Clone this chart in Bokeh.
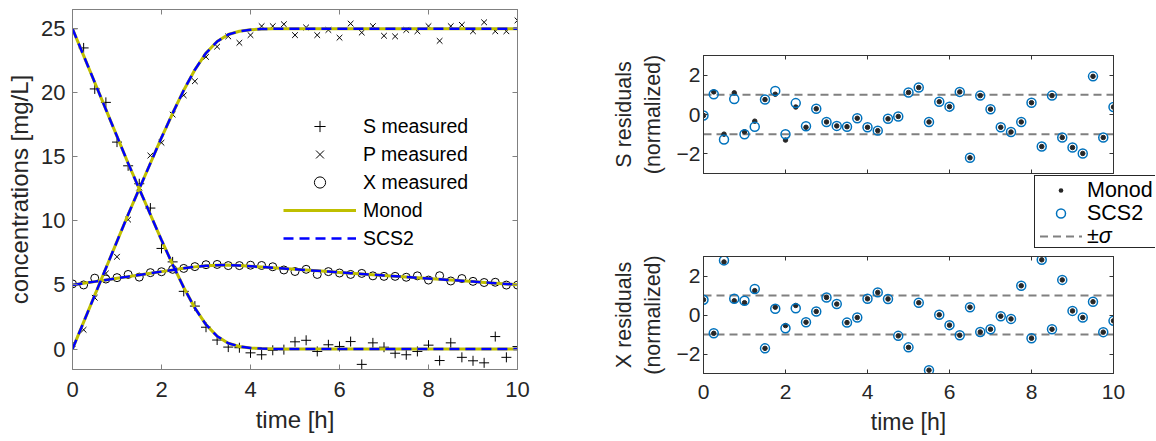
from bokeh.plotting import figure
from bokeh.models import Range1d, LinearAxis, FixedTicker, Legend, LegendItem, Div
from bokeh.layouts import row, column
from bokeh.embed import file_html
from bokeh.resources import INLINE

# ---------------- data ----------------
time = [0.0, 0.25, 0.5, 0.75, 1.0, 1.25, 1.5, 1.75, 2.0, 2.25, 2.5, 2.75, 3.0, 3.25, 3.5, 3.75,
        4.0, 4.25, 4.5, 4.75, 5.0, 5.25, 5.5, 5.75, 6.0, 6.25, 6.5, 6.75, 7.0, 7.25, 7.5, 7.75,
        8.0, 8.25, 8.5, 8.75, 9.0, 9.25, 9.5, 9.75, 10.0]

S_measured = [25.0, 23.5, 20.3, 19.25, 16.15, 14.3, 12.9, 11.0, 7.85, 6.8, 4.5, 3.35, 1.7, 0.7, 0.15, 0.1,
              -0.3, -0.45, -0.1, -0.05, 0.56, 0.68, -0.19, 0.33, 0.2, 0.58, -1.2, 0.48, 0.14, -0.33,
              -0.45, -0.19, 0.3, -0.9, 0.48, -0.65, -0.92, -1.08, 0.97, -0.65, 0.19]
P_measured = [0.4, 1.5, 4.0, 5.9, 7.2, 10.1, 12.6, 15.1, 16.1, 18.3, 19.8, 20.9, 22.8, 23.6, 24.4, 23.9,
              24.5, 25.2, 25.2, 25.35, 24.5, 25.1, 24.5, 24.9, 24.3, 25.4, 24.7, 25.2, 24.45, 24.4,
              24.9, 24.8, 25.2, 24.05, 25.2, 25.3, 24.8, 25.5, 24.8, 24.8, 25.65]
X_measured = [5.08, 5.0, 5.53, 5.46, 5.57, 5.82, 5.61, 5.96, 6.03, 6.22, 6.29, 6.43, 6.58, 6.6, 6.51, 6.51,
              6.54, 6.52, 6.42, 6.17, 6.05, 6.22, 5.82, 6.04, 5.93, 5.82, 5.9, 5.71, 5.67, 5.67,
              5.6, 5.71, 5.38, 5.72, 5.31, 5.5, 5.28, 5.19, 5.21, 4.99, 4.99]

S_monod = [25.0, 22.9, 20.8, 18.7, 16.6, 14.5, 12.5, 10.5, 8.5, 6.6, 4.8, 3.2, 1.9, 1.0, 0.45, 0.2,
           0.08, 0.03, 0.01, 0.0, 0.0, 0.0, 0.0, 0.0, 0.0, 0.0, 0.0, 0.0, 0.0, 0.0,
           0.0, 0.0, 0.0, 0.0, 0.0, 0.0, 0.0, 0.0, 0.0, 0.0, 0.0]
P_monod = [0.0, 2.1, 4.2, 6.3, 8.4, 10.5, 12.5, 14.5, 16.5, 18.4, 20.2, 21.8, 23.1, 24.0, 24.55, 24.8,
           24.92, 24.97, 24.99, 25.0, 25.0, 25.0, 25.0, 25.0, 25.0, 25.0, 25.0, 25.0, 25.0, 25.0,
           25.0, 25.0, 25.0, 25.0, 25.0, 25.0, 25.0, 25.0, 25.0, 25.0, 25.0]
X_monod = [5.0, 5.13, 5.26, 5.39, 5.52, 5.65, 5.78, 5.91, 6.04, 6.17, 6.3, 6.41, 6.49, 6.54, 6.55, 6.52,
           6.46, 6.4, 6.34, 6.28, 6.22, 6.16, 6.1, 6.04, 5.98, 5.92, 5.86, 5.8, 5.74, 5.68,
           5.62, 5.56, 5.5, 5.44, 5.38, 5.32, 5.26, 5.2, 5.14, 5.08, 5.02]
S_scs2 = [25.0, 22.9, 20.8, 18.7, 16.6, 14.5, 12.5, 10.5, 8.5, 6.6, 4.8, 3.2, 1.9, 1.0, 0.45, 0.2,
          0.08, 0.03, 0.01, 0.0, 0.0, 0.0, 0.0, 0.0, 0.0, 0.0, 0.0, 0.0, 0.0, 0.0,
          0.0, 0.0, 0.0, 0.0, 0.0, 0.0, 0.0, 0.0, 0.0, 0.0, 0.0]
P_scs2 = [0.0, 2.1, 4.2, 6.3, 8.4, 10.5, 12.5, 14.5, 16.5, 18.4, 20.2, 21.8, 23.1, 24.0, 24.55, 24.8,
          24.92, 24.97, 24.99, 25.0, 25.0, 25.0, 25.0, 25.0, 25.0, 25.0, 25.0, 25.0, 25.0, 25.0,
          25.0, 25.0, 25.0, 25.0, 25.0, 25.0, 25.0, 25.0, 25.0, 25.0, 25.0]
X_scs2 = [5.0, 5.13, 5.26, 5.39, 5.52, 5.65, 5.78, 5.91, 6.04, 6.17, 6.3, 6.41, 6.49, 6.54, 6.55, 6.52,
          6.46, 6.4, 6.34, 6.28, 6.22, 6.16, 6.1, 6.04, 5.98, 5.92, 5.86, 5.8, 5.74, 5.68,
          5.62, 5.56, 5.5, 5.44, 5.38, 5.32, 5.26, 5.2, 5.14, 5.08, 5.02]

S_res_monod = [-0.05, 1.15, -1.0, 1.1, -0.88, -0.34, 0.76, 1.03, -1.3, 0.38, -0.65, 0.29, -0.38, -0.58, -0.62, -0.19,
               -0.65, -0.82, -0.22, -0.10, 1.12, 1.37, -0.38, 0.65, 0.40, 1.15, -2.2, 0.96, 0.27, -0.65,
               -0.89, -0.38, 0.6, -1.63, 0.96, -1.17, -1.68, -1.98, 1.94, -1.17, 0.38]
S_res_scs2 = [-0.05, 1.03, -1.27, 0.79, -1.0, -0.62, 0.76, 1.2, -1.0, 0.58, -0.6, 0.29, -0.38, -0.58, -0.62, -0.19,
              -0.65, -0.82, -0.22, -0.10, 1.12, 1.37, -0.38, 0.65, 0.40, 1.15, -2.2, 0.96, 0.27, -0.65,
              -0.89, -0.38, 0.6, -1.63, 0.96, -1.17, -1.68, -1.98, 1.94, -1.17, 0.38]
X_res_monod = [0.78, -0.94, 2.72, 0.73, 0.63, 1.25, -1.71, 0.4, -0.54, 0.49, -0.37, 0.18, 0.9, 0.56, -0.39, -0.13,
               0.83, 1.16, 0.82, -1.07, -1.66, 0.63, -2.83, 0.01, -0.52, -1.04, 0.40, -0.87, -0.73, -0.06,
               -0.2, 1.5, -1.19, 2.83, -0.73, 1.8, 0.21, -0.13, 0.68, -0.88, -0.3]
X_res_scs2 = [0.78, -0.94, 2.8, 0.83, 0.73, 1.33, -1.71, 0.32, -0.68, 0.35, -0.37, 0.18, 0.9, 0.56, -0.39, -0.13,
              0.83, 1.16, 0.82, -1.07, -1.66, 0.63, -2.83, 0.01, -0.52, -1.04, 0.40, -0.87, -0.73, -0.06,
              -0.2, 1.5, -1.19, 2.83, -0.73, 1.8, 0.21, -0.13, 0.68, -0.88, -0.3]
sigma_levels = [1, -1]

res_legend_labels = ["Monod", "SCS2", "±σ"]

x_ticks = [0, 2, 4, 6, 8, 10]
conc_ticks = [0, 5, 10, 15, 20, 25]
res_ticks = [-2, 0, 2]

# ---------------- style ----------------
FONT = "Liberation Sans"
TXT = "#262626"
MONOD_C = "#BFBF00"
SCS2_C = "#0000FF"
RES_BLUE = "#0072BD"
SIG_C = "#808080"
DOT_C = "#262626"


def make_fig(fw, fh, xr, yr, bl, br, bt, bb, axis_color, tick_len, xticks, yticks,
             xlabel=None, ylabel=None, show_xlabels=True, tick_fs="22px", label_fs="24px"):
    p = figure(frame_width=fw, frame_height=fh, x_range=Range1d(*xr), y_range=Range1d(*yr),
               min_border_left=bl, min_border_right=br, min_border_top=bt, min_border_bottom=bb,
               output_backend="svg", toolbar_location=None)
    p.xgrid.visible = False
    p.ygrid.visible = False
    p.outline_line_color = axis_color
    p.outline_line_width = 1
    p.add_layout(LinearAxis(), "above")
    p.add_layout(LinearAxis(), "right")
    for side, axes in (("below", p.below), ("left", p.left), ("above", p.above), ("right", p.right)):
        for ax in axes:
            ax.ticker = FixedTicker(ticks=xticks if side in ("below", "above") else yticks)
            ax.major_tick_in = tick_len
            ax.major_tick_out = 0
            ax.minor_tick_line_color = None
            ax.axis_line_color = axis_color
            ax.major_tick_line_color = axis_color
            ax.major_label_text_font = FONT
            ax.major_label_text_color = TXT
            ax.major_label_text_font_size = tick_fs
            ax.axis_label_text_font = FONT
            ax.axis_label_text_font_style = "normal"
            ax.axis_label_text_color = TXT
            ax.axis_label_text_font_size = label_fs
            if side in ("above", "right") or (side == "below" and not show_xlabels):
                # tick marks only (box-style axes): no labels at all
                ax.major_label_text_font_size = "0px"
                ax.major_label_text_color = None
                ax.major_label_standoff = 0
                ax.axis_label_standoff = 0
    if xlabel:
        p.below[0].axis_label = xlabel
    if ylabel:
        p.left[0].axis_label = ylabel
    return p


# ---------------- left panel ----------------
p1 = make_fig(445, 360, (0, 10), (-1.6, 26.5), 72, 73, 9, 72, "#808080", 5,
              x_ticks, conc_ticks, xlabel="time [h]", ylabel="concentrations [mg/L]")
p1.below[0].major_label_standoff = 12
p1.left[0].major_label_standoff = 7
p1.below[0].axis_label_standoff = 6

rS = p1.scatter(time, S_measured, marker="cross", size=10, line_color="black", line_width=1)
rP = p1.scatter(time, P_measured, marker="x", size=8, line_color="black", line_width=1)
rX = p1.scatter(time, X_measured, marker="circle", size=8, line_color="black",
                fill_color=None, line_width=1)
rM = None
for ys in (S_monod, P_monod, X_monod):
    r = p1.line(time, ys, line_color=MONOD_C, line_width=3)
    rM = rM or r
rC = None
for ys in (S_scs2, P_scs2, X_scs2):
    r = p1.line(time, ys, line_color=SCS2_C, line_width=2.5, line_dash="10 6")
    rC = rC or r

leg1 = Legend(items=[LegendItem(label="S measured", renderers=[rS]),
                     LegendItem(label="P measured", renderers=[rP]),
                     LegendItem(label="X measured", renderers=[rX]),
                     LegendItem(label="Monod", renderers=[rM]),
                     LegendItem(label="SCS2", renderers=[rC])],
              location=(211, 117), padding=0, margin=0, spacing=0,
              glyph_width=73, glyph_height=28, label_height=28, label_standoff=7,
              border_line_color=None, background_fill_alpha=0,
              label_text_font=FONT, label_text_font_size="19.5px", label_text_color="black")
p1.add_layout(leg1)

# ---------------- right panels ----------------
p2 = make_fig(410, 118, (0, 10), (-3, 3), 113, 43, 55, 2, "#333333", 4,
              x_ticks, res_ticks, ylabel="S residuals\n(normalized)", show_xlabels=False,
              tick_fs="21px", label_fs="21.5px")
p3 = make_fig(410, 117, (0, 10), (-3, 3), 113, 43, 3, 68, "#333333", 4,
              x_ticks, res_ticks, xlabel="time [h]", ylabel="X residuals\n(normalized)",
              tick_fs="21px", label_fs="21.5px")
for p in (p2, p3):
    p.left[0].major_label_standoff = 3
    p.left[0].axis_label_standoff = 9
p3.below[0].major_label_standoff = 11
p3.below[0].axis_label_standoff = 7
p3.below[0].axis_label_text_font_size = "23px"

for p, rm, rs in ((p2, S_res_monod, S_res_scs2), (p3, X_res_monod, X_res_scs2)):
    p.multi_line([[time[0], time[-1]] for _ in sigma_levels], [[s, s] for s in sigma_levels],
                 line_color=SIG_C, line_width=2, line_dash="8 5")
    p.scatter(time, rm, marker="circle", size=4.5, fill_color=DOT_C, line_color=DOT_C)
    p.scatter(time, rs, marker="circle", size=9, fill_color=None, line_color=RES_BLUE,
              line_width=1.5)

# ---------------- shared legend of the residual plots (between them) ----------------
glyph_svgs = [
    f'<circle cx="21" cy="11.5" r="2.3" fill="{DOT_C}"/>',
    f'<circle cx="21" cy="11.5" r="4.5" fill="none" stroke="{RES_BLUE}" stroke-width="1.5"/>',
    f'<line x1="0" y1="11.5" x2="42" y2="11.5" stroke="{SIG_C}" stroke-width="2" stroke-dasharray="8 5"/>',
]
rows_html = ""
for lab, g in zip(res_legend_labels, glyph_svgs):
    lab_html = lab.replace("σ", "<i>σ</i>")
    rows_html += (
        '<div style="display:flex;align-items:center;height:23px;white-space:nowrap;">'
        f'<svg width="42" height="23" style="margin-left:5px;flex:none;">{g}</svg>'
        f'<span style="margin-left:5px;">{lab_html}</span></div>'
    )
legend_html = (
    '<div style="position:relative;width:566px;height:78px;margin:0;padding:0;">'
    '<div style="position:absolute;left:444px;top:0px;width:121px;height:73px;'
    'border:1px solid #262626;border-right:none;background:#ffffff;padding-top:3px;'
    f'font-family:\'{FONT}\';font-size:21.5px;color:#000000;line-height:23px;overflow:hidden;">'
    f'{rows_html}</div></div>'
)
legend_div = Div(text=legend_html, width=566, height=78, margin=0)

layout = row(p1, column(p2, legend_div, p3))
open("out.html", "w").write(file_html(layout, INLINE))
